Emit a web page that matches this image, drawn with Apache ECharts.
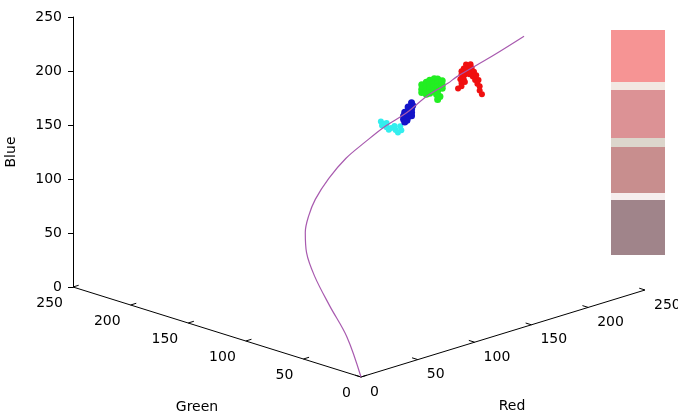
<!DOCTYPE html>
<html>
<head>
<meta charset="utf-8">
<script src="https://cdn.jsdelivr.net/npm/echarts@6/dist/echarts.min.js"></script>
<style>
html,body{margin:0;padding:0;background:#fff;}
#chart{width:678px;height:416px;}
</style>
</head>
<body>
<div id="chart"></div>
<script>
// ---------- data ----------
const redTicks = [0, 50, 100, 150, 200, 250];
const greenTicks = [0, 50, 100, 150, 200, 250];
const blueTicks = [0, 50, 100, 150, 200, 250];
const axisNames = { red: 'Red', green: 'Green', blue: 'Blue' };

// locus curve (R, G, B)
const curveR = [0, 9, 12, 15, 19, 26, 35, 48, 67, 89, 110, 131, 151, 170, 189, 198, 223, 250];
const curveG = [0, 21, 39, 55, 66, 74, 80, 87, 94, 101, 105, 109, 109, 110, 111, 112, 107, 105];
const curveB = [0, 27, 49, 70, 87, 101, 111, 120, 131, 140, 147, 153, 160, 169, 174, 177, 189, 200];

// pixel samples (R, G, B)
const cyanCluster = [[125,106,161],[128,106,158],[126,106,157],[130,106,154],[130,106,158],[134,106,152],
  [137,106,153],[138,106,149],[142,106,151],[143,106,147],[140,106,146],[132,106,151]];
const blueCluster = [[153,107,169],[154,107,166],[150,107,166],[153,107,163],[147,107,162],[151,107,160],
  [153,107,160],[146,107,159],[150,107,157],[153,107,157],[146,107,156],[149,107,154],[147,107,153]];
const greenCluster = [[163,108,182],[163,108,178],[163,108,175],[167,108,183],[167,108,179],[167,108,175],
  [167,108,172],[170,108,184],[170,108,180],[170,108,176],[170,108,172],[174,108,184],[174,108,180],
  [174,108,177],[174,108,173],[177,108,183],[177,108,179],[177,108,176],[177,108,172],[177,108,168],
  [177,108,164],[181,108,180],[181,108,176],[181,108,173],[179,108,166],[176,108,169]];
const redCluster = [[204,110,187],[208,110,186],[202,110,184],[206,110,183],[209,110,182],[200,110,182],
  [204,110,181],[208,110,180],[200,110,179],[203,110,178],[207,110,177],[199,110,175],[202,110,174],
  [200,110,171],[203,110,171],[200,110,168],[211,110,178],[210,110,174],[213,110,174],[212,110,170],
  [215,110,169],[214,110,166],[216,110,163],[216,110,159],[218,110,155],[197,110,167]];

// colour swatches (top to bottom)
const swatchColors = ['#f69494', '#dc9295', '#c88e8e', '#a0848a'];

// ---------- layout / projection (styles) ----------
const ORIGIN = [361, 377];
const R_VEC = [1.136, -0.348];
const G_VEC = [-1.152, -0.36];
const B_VEC = [0, -1.08];
const TICK_LEN = 5;
const FONT = '"DejaVu Sans", sans-serif';
const FS = 14;

function proj(r, g, b) {
  return [ORIGIN[0] + r * R_VEC[0] + g * G_VEC[0] + b * B_VEC[0],
          ORIGIN[1] + r * R_VEC[1] + g * G_VEC[1] + b * B_VEC[1]];
}

const maxR = redTicks[redTicks.length - 1];
const maxG = greenTicks[greenTicks.length - 1];

const axisSegs = [
  { coords: [proj(0, 0, 0), proj(maxR, 0, 0)] },
  { coords: [proj(0, 0, 0), proj(0, maxG, 0)] }
];
greenTicks.forEach(v => axisSegs.push({ coords: [proj(0, v, 0), proj(TICK_LEN, v, 0)] }));
redTicks.forEach(v => axisSegs.push({ coords: [proj(v, 0, 0), proj(v, TICK_LEN, 0)] }));

const labelItems = [];
greenTicks.forEach(v => { const p = proj(0, v, 0); labelItems.push([p[0] - 10, p[1] + 16.5, String(v), 'right']); });
redTicks.forEach(v => { const p = proj(v, 0, 0); labelItems.push([p[0] + 9, p[1] + 15, String(v), 'left']); });
{
  const pg = proj(0, maxG / 2, 0);
  labelItems.push([pg[0] - 20, pg[1] + 75, axisNames.green, 'center']);
  const pr = proj(maxR / 2, 0, 0);
  labelItems.push([pr[0] + 9, pr[1] + 72.5, axisNames.red, 'center']);
}

const curveData = curveR.map((r, i) => proj(r, curveG[i], curveB[i]));
const clusterSeries = (arr, color, size) => ({
  type: 'scatter', xAxisIndex: 0, yAxisIndex: 0, silent: true,
  data: arr.map(p => proj(p[0], p[1], p[2])),
  symbol: 'circle', symbolSize: size,
  itemStyle: { color: color, opacity: 1 }, z: 3
});

const sepColors = ['#f2e8e2', '#dcd6cc', '#f6eeee'];
const bandSizes = [52, 8, 48, 9, 46, 7, 55];
const bandColors = [swatchColors[0], sepColors[0], swatchColors[1], sepColors[1], swatchColors[2], sepColors[2], swatchColors[3]];
const bandSeries = bandSizes.map((h, i) => ({
  type: 'bar', xAxisIndex: 2, yAxisIndex: 2, stack: 'sw', barWidth: '100%', silent: true,
  data: [h], itemStyle: { color: bandColors[i] }
}));

const chart = echarts.init(document.getElementById('chart'), null, { renderer: 'canvas' });
chart.setOption({
  backgroundColor: '#ffffff',
  animation: false,
  grid: [
    { left: 0, top: 0, width: 678, height: 416 },
    { left: 73, top: 17, width: 1, height: 270 },
    { left: 611, top: 30, width: 54, height: 225 }
  ],
  xAxis: [
    { gridIndex: 0, type: 'value', min: 0, max: 678, show: false },
    { gridIndex: 1, type: 'value', min: 0, max: 1, show: false },
    { gridIndex: 2, type: 'category', data: ['swatch'], show: false }
  ],
  yAxis: [
    { gridIndex: 0, type: 'value', min: 0, max: 416, inverse: true, show: false },
    { gridIndex: 1, type: 'value', min: 0, max: 250, interval: 50,
      axisLine: { show: true, lineStyle: { color: '#000', width: 1 } },
      axisTick: { show: true, length: 5, lineStyle: { color: '#000' } },
      axisLabel: { color: '#000', fontSize: FS, fontFamily: FONT, margin: 11 },
      splitLine: { show: false },
      name: axisNames.blue, nameLocation: 'middle', nameGap: 55, nameRotate: 90,
      nameTextStyle: { color: '#000', fontSize: FS, fontFamily: FONT } },
    { gridIndex: 2, type: 'value', min: 0, max: 225, inverse: true, show: false }
  ],
  series: [
    {
      type: 'lines', coordinateSystem: 'cartesian2d', xAxisIndex: 0, yAxisIndex: 0, silent: true,
      data: axisSegs, lineStyle: { color: '#000', width: 1, opacity: 1 }, z: 2
    },
    clusterSeries(cyanCluster, '#33eeee', 6),
    clusterSeries(blueCluster, '#1414c8', 7),
    clusterSeries(greenCluster, '#22ee22', 7),
    clusterSeries(redCluster, '#f01010', 6),
    {
      type: 'line', xAxisIndex: 0, yAxisIndex: 0, silent: true, data: curveData,
      smooth: 0.35, showSymbol: false, lineStyle: { color: '#a85aaf', width: 1.2 }, z: 4
    },
    {
      type: 'custom', coordinateSystem: 'cartesian2d', xAxisIndex: 0, yAxisIndex: 0, silent: true,
      data: labelItems,
      renderItem: function (params, api) {
        const item = labelItems[params.dataIndex];
        const c = api.coord([item[0], item[1]]);
        return {
          type: 'text', x: c[0], y: c[1],
          style: { text: item[2], align: item[3], verticalAlign: 'middle',
                   fill: '#000', fontSize: FS, fontFamily: FONT }
        };
      }, z: 5
    }
  ].concat(bandSeries)
});
</script>
</body>
</html>
